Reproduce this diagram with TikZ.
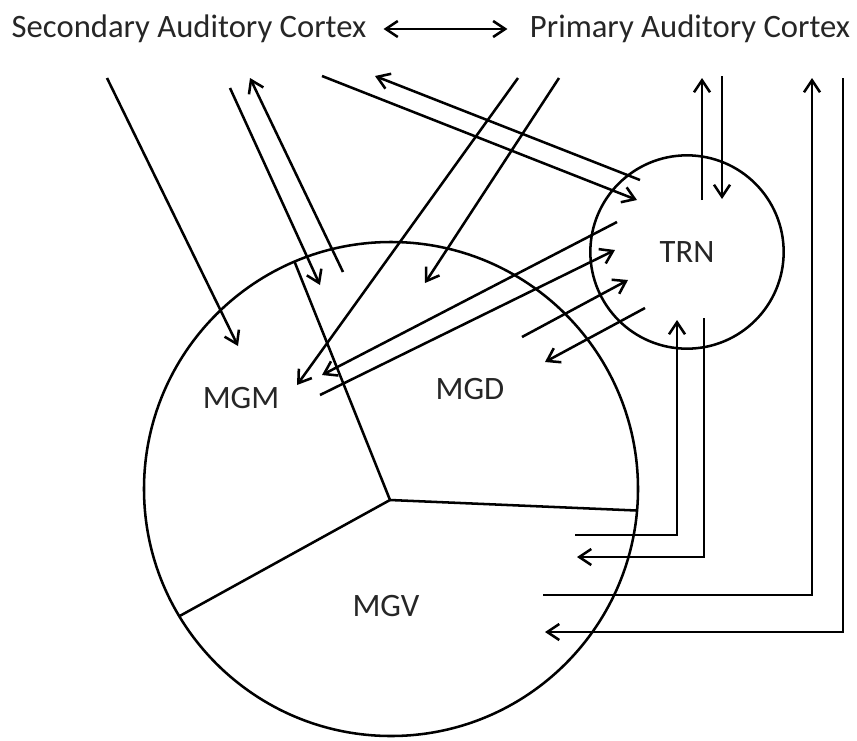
\documentclass[tikz,border=0pt]{standalone}
\usepackage{fontspec}
\setmainfont{Carlito}
\usetikzlibrary{arrows.meta}
\begin{document}
\begin{tikzpicture}[x=0.75pt,y=-0.75pt, line width=1.9pt,
  conn/.style={-{Straight Barb[length=9pt,width=12pt]}},
  dbl/.style={{Straight Barb[length=9pt,width=12pt]}-{Straight Barb[length=9pt,width=12pt]}},
  lbl/.style={font=\fontsize{24.5}{28}\selectfont, inner sep=0pt, text=black!85},
  region/.style={draw, circle, inner sep=0pt, outer sep=0pt}]
\useasboundingbox (0,0) rectangle (857,740);
% titles
\node[lbl] (sac) at (189,29) {Secondary Auditory Cortex};
\node[lbl] (pac) at (690,29) {Primary Auditory Cortex};
\draw[dbl, shorten <=12pt, shorten >=16pt] (sac) -- (pac);
% nuclei
\node[region, minimum size=370.5pt] (mg) at (391,489) {};
\node[region, minimum size=145pt, font=\fontsize{24.5}{28}\selectfont, text=black!85] (trn) at (687,252) {TRN};
\coordinate (J) at (390,500);
\draw (J) -- (mg.113.3);
\draw (J) -- (mg.-5.6);
\draw (J) -- (mg.211.2);
\node[lbl] (mgm) at (241,398) {MGM};
\node[lbl] (mgd) at (470,389) {MGD};
\node[lbl] (mgv) at (386,606) {MGV};
% free ends
\coordinate (a1s) at (107,78);  \coordinate (a1e) at (238,346);
\coordinate (a2s) at (230,88);  \coordinate (a2e) at (320,285);
\coordinate (a3s) at (343,272); \coordinate (a3e) at (250,78);
\coordinate (a4s) at (322,76);  \coordinate (a4e) at (637,200);
\coordinate (a5s) at (640,180); \coordinate (a5e) at (375,76);
\coordinate (a6s) at (518,78);  \coordinate (a6e) at (297,385);
\coordinate (a7s) at (559,78);  \coordinate (a7e) at (425,283);
\coordinate (a8s) at (617,222); \coordinate (a8e) at (322,375);
\coordinate (a9s) at (320,395); \coordinate (a9e) at (615,250);
\coordinate (b1s) at (522,337); \coordinate (b1e) at (628,280);
\coordinate (b2s) at (645,308); \coordinate (b2e) at (545,362);
\coordinate (c1s) at (702,200); \coordinate (c1e) at (702,78);
\coordinate (c2s) at (722,76);  \coordinate (c2e) at (722,199);
\coordinate (d1s) at (575,535); \coordinate (d1k) at (677,535); \coordinate (d1e) at (677,320);
\coordinate (d2s) at (704,318); \coordinate (d2k) at (704,557); \coordinate (d2e) at (577,557);
\coordinate (e1s) at (543,595); \coordinate (e1k) at (812,595); \coordinate (e1e) at (812,78);
\coordinate (e2s) at (843,78);  \coordinate (e2k) at (843,632); \coordinate (e2e) at (545,632);
% connectors
\draw[conn] (a1s) -- (a1e);
\draw[conn] (a2s) -- (a2e);
\draw[conn] (a3s) -- (a3e);
\draw[conn] (a4s) -- (a4e);
\draw[conn] (a5s) -- (a5e);
\draw[conn] (a6s) -- (a6e);
\draw[conn] (a7s) -- (a7e);
\draw[conn] (a8s) -- (a8e);
\draw[conn] (a9s) -- (a9e);
\draw[conn] (b1s) -- (b1e);
\draw[conn] (b2s) -- (b2e);
\draw[conn] (c1s) -- (c1e);
\draw[conn] (c2s) -- (c2e);
\draw[conn] (d1s) -- (d1k) -- (d1e);
\draw[conn] (d2s) -- (d2k) -- (d2e);
\draw[conn] (e1s) -- (e1k) -- (e1e);
\draw[conn] (e2s) -- (e2k) -- (e2e);
\end{tikzpicture}
\end{document}
